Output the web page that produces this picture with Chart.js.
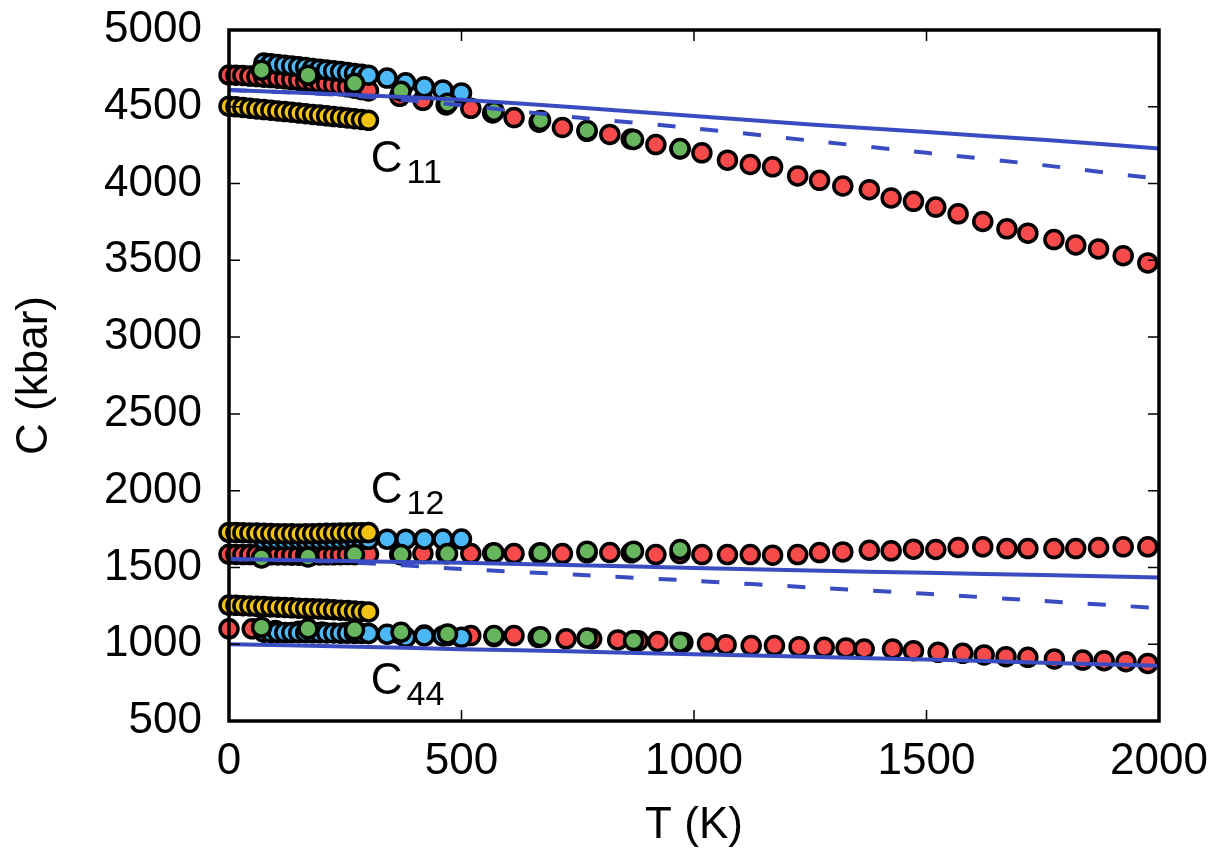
<!DOCTYPE html>
<html>
<head>
<meta charset="utf-8">
<script src="https://cdn.jsdelivr.net/npm/chart.js@4.4.1/dist/chart.umd.min.js"></script>
<style>
  html, body { margin: 0; padding: 0; background: #fff; }
  #wrap { width: 1220px; height: 858px; }
</style>
</head>
<body>
<div id="wrap"><canvas id="myChart" width="1220" height="858"></canvas></div>
<script>
// temperatures (K)
const tYellow = [0,15,30,45,60,75,90,105,120,135,150,165,180,195,210,225,240,255,270,285,300];
const tBlue = [75,90,105,120,135,150,165,180,195,210,225,240,255,270,285,300,340,380,420,460,500];
const tRed = [0,15,30,45,60,75,90,105,120,135,150,165,180,195,210,225,240,255,270,285,300,
  367,417,467,520,567,613,667,717,770,819,865,918,970,1017,1072,1121,1169,1223,1270,1320,
  1377,1424,1472,1520,1568,1621,1673,1718,1774,1821,1870,1923,1976];
const tRed44 = [0,50,100,150,200,250,300,367,420,470,520,570,613,665,725,780,836,880,922,976,
  1029,1069,1123,1173,1226,1280,1327,1366,1427,1472,1525,1578,1624,1671,1718,1775,1836,1882,1929,1976];
const tGreen = [70,170,270,370,470,570,670,770,870,970];
const tLine = [0,250,500,750,1000,1250,1500,1750,2000];

// C11 (kbar)
const yellowC11 = [4504,4500,4496,4491,4486,4482,4478,4473,4469,4465,4460,4455,4450,4446,4441,4436,4432,4427,4422,4417,4412];
const blueC11 = [4785,4781,4776,4771,4766,4761,4756,4750,4745,4740,4734,4729,4723,4717,4712,4706,4687,4656,4630,4610,4590];
const redC11 = [4707,4706,4704,4700,4697,4693,4690,4686,4682,4677,4672,4667,4662,4656,4650,4644,4637,4630,4622,4612,4603,
  4568,4542,4512,4490,4460,4430,4400,4365,4340,4320,4290,4254,4225,4200,4152,4124,4109,4050,4021,3984,
  3960,3906,3884,3847,3803,3753,3705,3677,3635,3600,3574,3530,3483];
const greenC11 = [4738,4706,4653,4601,4523,4470,4411,4346,4287,4228];
const solidC11 = [4610,4580,4545,4495,4440,4385,4335,4285,4228];
const dashC11 = [4610,4575,4510,4430,4360,4280,4200,4120,4030];

// C12 (kbar)
const yellowC12 = [1728,1727,1726,1725,1724,1722,1721,1720,1719,1719,1718,1719,1720,1721,1722,1723,1724,1725,1726,1726,1727];
const blueC12 = [1680,1681,1680,1679,1680,1681,1680,1679,1680,1681,1680,1681,1682,1682,1683,1683,1684,1684,1684,1685,1685];
const redC12 = [1586,1585,1584,1584,1583,1582,1582,1581,1581,1580,1580,1580,1581,1581,1582,1582,1583,1584,1585,1586,1586,
  1585,1590,1590,1590,1592,1590,1592,1590,1595,1597,1595,1584,1590,1584,1584,1584,1580,1584,1597,1601,
  1612,1608,1619,1617,1630,1634,1623,1623,1623,1623,1630,1634,1634];
const greenC12 = [1562,1568,1584,1584,1590,1595,1595,1606,1606,1617];
const solidC12 = [1555,1542,1530,1515,1497,1480,1465,1450,1435];
const dashC12 = [1555,1535,1490,1452,1413,1370,1328,1282,1235];

// C44 (kbar)
const yellowC44 = [1255,1253,1251,1249,1247,1245,1243,1241,1239,1237,1235,1233,1231,1229,1227,1225,1222,1219,1216,1213,1210];
const blueC44 = [1078,1077,1077,1076,1076,1075,1075,1074,1074,1073,1073,1072,1072,1071,1070,1070,1065,1045,1054,1054,1045];
const redC44 = [1100,1100,1090,1085,1080,1075,1070,1067,1060,1056,1056,1050,1056,1045,1035,1035,1028,1022,1017,1012,
  1006,997,991,991,984,980,976,969,969,958,947,941,930,919,915,904,897,893,886,875];
const greenC44 = [1111,1100,1094,1078,1067,1056,1048,1041,1024,1013];
const solidC44 = [1000,985,968,952,935,918,900,880,860];

const xTicks = [0,500,1000,1500,2000];
const yTicks = [500,1000,1500,2000,2500,3000,3500,4000,4500,5000];
const labelNames = ['11','12','44'];
const labelT = [305,305,305];
const labelC = [4074,1922,676];

const FONT = '"Liberation Sans", Arial, sans-serif';
const RED = '#f74b4b', BLUE = '#4db8f6', GREEN = '#67b55c', YELLOW = '#f1c30f', LINE = '#3a4cc2';

function pts(xs, ys) { return xs.map((x, i) => ({x: x, y: ys[i]})); }

function dots(label, xs, ys, color, order) {
  return {
    label: label, data: pts(xs, ys), order: order, showLine: false, clip: false,
    pointRadius: 9, pointBorderWidth: 3.5, pointBackgroundColor: color, pointBorderColor: '#000'
  };
}
function curve(label, ys, dash) {
  return {
    label: label, data: pts(tLine, ys), order: 0, showLine: true, clip: false,
    borderColor: LINE, borderWidth: 4, borderDash: dash, pointRadius: 0, tension: 0.3, fill: false
  };
}

const frame = {
  id: 'frame',
  afterDraw(chart) {
    const {ctx, chartArea: a, scales: {x, y}} = chart;
    ctx.save();
    ctx.strokeStyle = '#000';
    ctx.lineWidth = 1.5;
    ctx.beginPath();
    yTicks.forEach(v => {
      const py = y.getPixelForValue(v);
      ctx.moveTo(a.left, py); ctx.lineTo(a.left + 11, py);
      ctx.moveTo(a.right, py); ctx.lineTo(a.right - 11, py);
    });
    xTicks.forEach(v => {
      const px = x.getPixelForValue(v);
      ctx.moveTo(px, a.bottom); ctx.lineTo(px, a.bottom - 11);
      ctx.moveTo(px, a.top); ctx.lineTo(px, a.top + 11);
    });
    ctx.stroke();
    ctx.lineWidth = 3.5;
    ctx.strokeRect(a.left, a.top, a.right - a.left, a.bottom - a.top);

    // C11 / C12 / C44 labels
    ctx.fillStyle = '#000';
    ctx.textBaseline = 'alphabetic';
    ctx.textAlign = 'left';
    labelNames.forEach((s, i) => {
      const px = x.getPixelForValue(labelT[i]);
      const py = y.getPixelForValue(labelC[i]);
      ctx.font = '44px ' + FONT;
      ctx.fillText('C', px, py);
      const w = ctx.measureText('C').width;
      ctx.font = '34px ' + FONT;
      ctx.fillText(s, px + w + 4, py + 11);
    });
    ctx.restore();
  }
};

new Chart(document.getElementById('myChart'), {
  type: 'scatter',
  data: {
    datasets: [
      curve('C11 solid', solidC11, []),
      curve('C11 dashed', dashC11, [18, 25]),
      curve('C12 solid', solidC12, []),
      curve('C12 dashed', dashC12, [18, 25]),
      curve('C44', solidC44, []),
      dots('red C11', tRed, redC11, RED, 4),
      dots('red C12', tRed, redC12, RED, 4),
      dots('red C44', tRed44, redC44, RED, 4),
      dots('blue C11', tBlue, blueC11, BLUE, 3),
      dots('blue C12', tBlue, blueC12, BLUE, 3),
      dots('blue C44', tBlue, blueC44, BLUE, 3),
      dots('yellow C11', tYellow, yellowC11, YELLOW, 2),
      dots('yellow C12', tYellow, yellowC12, YELLOW, 2),
      dots('yellow C44', tYellow, yellowC44, YELLOW, 2),
      dots('green C11', tGreen, greenC11, GREEN, 1),
      dots('green C12', tGreen, greenC12, GREEN, 1),
      dots('green C44', tGreen, greenC44, GREEN, 1)
    ]
  },
  options: {
    responsive: false,
    animation: false,
    devicePixelRatio: 1,
    layout: { padding: { left: 0, right: 61, top: 30, bottom: 0 } },
    plugins: { legend: { display: false }, tooltip: { enabled: false } },
    scales: {
      x: {
        type: 'linear', min: 0, max: 2000,
        afterFit(scale) { scale.height = 137; scale.paddingLeft = 0; scale.paddingRight = 0; },
        afterBuildTicks(scale) { scale.ticks = xTicks.map(v => ({value: v})); },
        grid: { display: false, drawTicks: false },
        border: { display: false },
        ticks: { color: '#000', padding: 14, maxRotation: 0, font: { family: FONT, size: 44 },
                 callback: v => String(v) },
        title: { display: true, text: 'T (K)', color: '#000', padding: { top: 0, bottom: 6 }, font: { family: FONT, size: 44 } }
      },
      y: {
        type: 'linear', min: 500, max: 5000,
        afterFit(scale) { scale.width = 229; scale.paddingTop = 0; scale.paddingBottom = 0; },
        afterBuildTicks(scale) { scale.ticks = yTicks.map(v => ({value: v})); },
        grid: { display: false, drawTicks: false },
        border: { display: false },
        ticks: { color: '#000', padding: 27, font: { family: FONT, size: 44 },
                 callback: v => String(v) },
        title: { display: true, text: 'C (kbar)', color: '#000', padding: { top: 8, bottom: 0 }, font: { family: FONT, size: 44 } }
      }
    }
  },
  plugins: [frame]
});
</script>
</body>
</html>
